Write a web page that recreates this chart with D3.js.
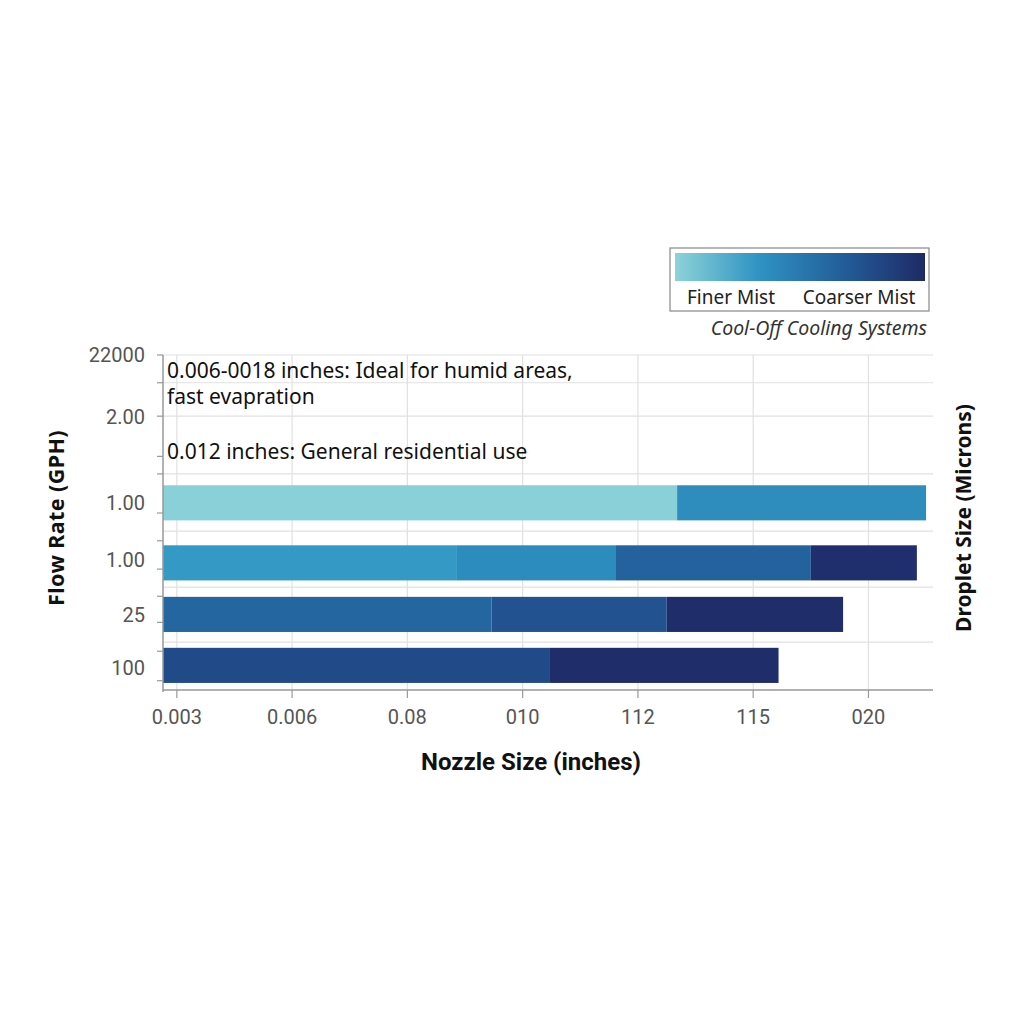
<!DOCTYPE html>
<html>
<head>
<meta charset="utf-8">
<script src="https://cdn.jsdelivr.net/npm/d3@7"></script>
<style>
  body { margin: 0; background: #fff; }
  svg { display: block; }
</style>
</head>
<body>
<div id="chart"></div>
<script>
// nozzle size tick labels (as printed on the chart)
var xTickLabels = ["0.003", "0.006", "0.08", "010", "112", "115", "020"];
var xTickPos = [0.12, 1.12, 2.12, 3.12, 4.12, 5.12, 6.12];

// flow rate labels and their row positions
var yTickLabels = ["22000", "2.00", "1.00", "1.00", "25", "100"];
var yTickPos = [0, 1.09, 2.61, 3.62, 4.59, 5.52];
var yMinorTicks = [0, 0.49, 1.08, 1.79, 2.1, 2.79, 3.28, 3.78, 4.26, 4.72, 5.23, 5.75];
var yGrid = [0, 0.49, 1.08, 2.1, 3.11, 4.1, 5.07];

// bar rows: centre position and segment ends (x units)
var barRows = [2.61, 3.67, 4.58, 5.48];
var barEnds = [
  [4.46, 6.62],
  [2.55, 3.93, 5.62, 6.54],
  [2.85, 4.37, 5.90],
  [3.35, 5.34]
];
var barColors = [
  ["#89d0d8", "#2f8dbd"],
  ["#3599c5", "#2c8cbd", "#23629c", "#1f2f6d"],
  ["#24669f", "#22528f", "#1f2d6b"],
  ["#204a88", "#1f2d6b"]
];

var annotations = [
  { text: "0.006-0018 inches: Ideal for humid areas,", row: 0.4 },
  { text: "fast evapration", row: 0.86 },
  { text: "0.012 inches: General residential use", row: 1.83 }
];

var legendStops = ["#8dd3d8", "#2f93c3", "#235e9a", "#1e2a66"];

var width = 1024, height = 1024;
var svg = d3.select("#chart").append("svg")
    .attr("width", width)
    .attr("height", height);

var x = d3.scaleLinear().domain([0, 6.68]).range([163, 933]);
var y = d3.scaleLinear().domain([0, 5.95]).range([355, 692]);
var barH = 0.62;

// grid
svg.append("g").selectAll("line").data(xTickPos).enter().append("line")
    .attr("x1", function(d){ return x(d); })
    .attr("x2", function(d){ return x(d); })
    .attr("y1", y(0)).attr("y2", 690)
    .attr("stroke", "#e1e1e1").attr("stroke-width", 1.2);
svg.append("g").selectAll("line").data(yGrid).enter().append("line")
    .attr("x1", 163).attr("x2", 933)
    .attr("y1", function(d){ return y(d); })
    .attr("y2", function(d){ return y(d); })
    .attr("stroke", "#e1e1e1").attr("stroke-width", 1.2);

// bars
barEnds.forEach(function(ends, r){
    var segs = ends.map(function(e, i){
        return { x0: i === 0 ? 0 : ends[i-1], x1: e, c: barColors[r][i] };
    });
    svg.append("g").selectAll("rect").data(segs).enter().append("rect")
        .attr("x", function(d){ return x(d.x0); })
        .attr("width", function(d){ return x(d.x1) - x(d.x0); })
        .attr("y", y(barRows[r] - barH / 2))
        .attr("height", y(barH) - y(0))
        .attr("fill", function(d){ return d.c; });
});

// y axis
var yAxisG = svg.append("g");
yAxisG.append("line").attr("x1", 163).attr("x2", 163)
    .attr("y1", y(0)).attr("y2", 692)
    .attr("stroke", "#999").attr("stroke-width", 1.5);
yAxisG.selectAll("line.t").data(yMinorTicks).enter().append("line")
    .attr("class", "t")
    .attr("x1", 157).attr("x2", 163)
    .attr("y1", function(d){ return y(d); })
    .attr("y2", function(d){ return y(d); })
    .attr("stroke", "#999").attr("stroke-width", 1.2);
yAxisG.selectAll("text").data(yTickLabels).enter().append("text")
    .attr("x", 145)
    .attr("y", function(d, i){ return y(yTickPos[i]); })
    .attr("dy", "0.35em")
    .attr("text-anchor", "end")
    .style("font-family", "Roboto, 'Liberation Sans', sans-serif")
    .style("font-size", "20px")
    .attr("fill", "#555")
    .text(function(d){ return d; });

// x axis
var xAxisG = svg.append("g");
xAxisG.append("line").attr("x1", 163).attr("x2", 933)
    .attr("y1", 690).attr("y2", 690)
    .attr("stroke", "#999").attr("stroke-width", 1.5);
xAxisG.selectAll("line.t").data(xTickPos).enter().append("line")
    .attr("class", "t")
    .attr("x1", function(d){ return x(d); })
    .attr("x2", function(d){ return x(d); })
    .attr("y1", 690).attr("y2", 698)
    .attr("stroke", "#999").attr("stroke-width", 1.2);
xAxisG.selectAll("text").data(xTickLabels).enter().append("text")
    .attr("x", function(d, i){ return x(xTickPos[i]); })
    .attr("y", 724)
    .attr("text-anchor", "middle")
    .style("font-family", "Roboto, 'Liberation Sans', sans-serif")
    .style("font-size", "20px")
    .attr("fill", "#555")
    .text(function(d){ return d; });

// annotations
svg.append("g").selectAll("text").data(annotations).enter().append("text")
    .attr("x", 167)
    .attr("y", function(d){ return y(d.row); })
    .style("font-family", "'Noto Sans', sans-serif")
    .style("font-size", "21px")
    .attr("fill", "#111")
    .text(function(d){ return d.text; });

// axis titles
svg.append("text")
    .attr("transform", "translate(64,518) rotate(-90)")
    .attr("text-anchor", "middle")
    .style("font-family", "'Noto Sans', sans-serif")
    .style("font-size", "21.5px").style("font-weight", "bold")
    .style("letter-spacing", "0.4px")
    .attr("fill", "#111")
    .text("Flow Rate (GPH)");
svg.append("text")
    .attr("transform", "translate(971,518) rotate(-90)")
    .attr("text-anchor", "middle")
    .style("font-family", "'Noto Sans', sans-serif")
    .style("font-size", "21px").style("font-weight", "bold")
    .attr("fill", "#111")
    .text("Droplet Size (Microns)");
svg.append("text")
    .attr("x", 531).attr("y", 770)
    .attr("text-anchor", "middle")
    .style("font-family", "Roboto, sans-serif")
    .style("font-size", "24px").style("font-weight", "bold")
    .attr("fill", "#111")
    .text("Nozzle Size (inches)");

// legend
var grad = svg.append("defs").append("linearGradient").attr("id", "lg");
grad.selectAll("stop").data(legendStops).enter().append("stop")
    .attr("offset", function(d, i){ return (i / (legendStops.length - 1) * 100) + "%"; })
    .attr("stop-color", function(d){ return d; });
var leg = svg.append("g");
leg.append("rect").attr("x", 670).attr("y", 248).attr("width", 259).attr("height", 63)
    .attr("fill", "#fff").attr("stroke", "#888").attr("stroke-width", 1.2);
leg.append("rect").attr("x", 675).attr("y", 253).attr("width", 250).attr("height", 28)
    .attr("fill", "url(#lg)");
leg.append("text").attr("x", 731).attr("y", 304).attr("text-anchor", "middle")
    .style("font-family", "'Noto Sans', sans-serif").style("font-size", "19px")
    .attr("fill", "#222").text("Finer Mist");
leg.append("text").attr("x", 859).attr("y", 304).attr("text-anchor", "middle")
    .style("font-family", "'Noto Sans', sans-serif").style("font-size", "19px")
    .attr("fill", "#222").text("Coarser Mist");
leg.append("text").attr("x", 927).attr("y", 335).attr("text-anchor", "end")
    .style("font-family", "'Noto Sans', sans-serif").style("font-size", "19.5px")
    .style("font-style", "italic")
    .attr("fill", "#333").text("Cool-Off Cooling Systems");
</script>
</body>
</html>
